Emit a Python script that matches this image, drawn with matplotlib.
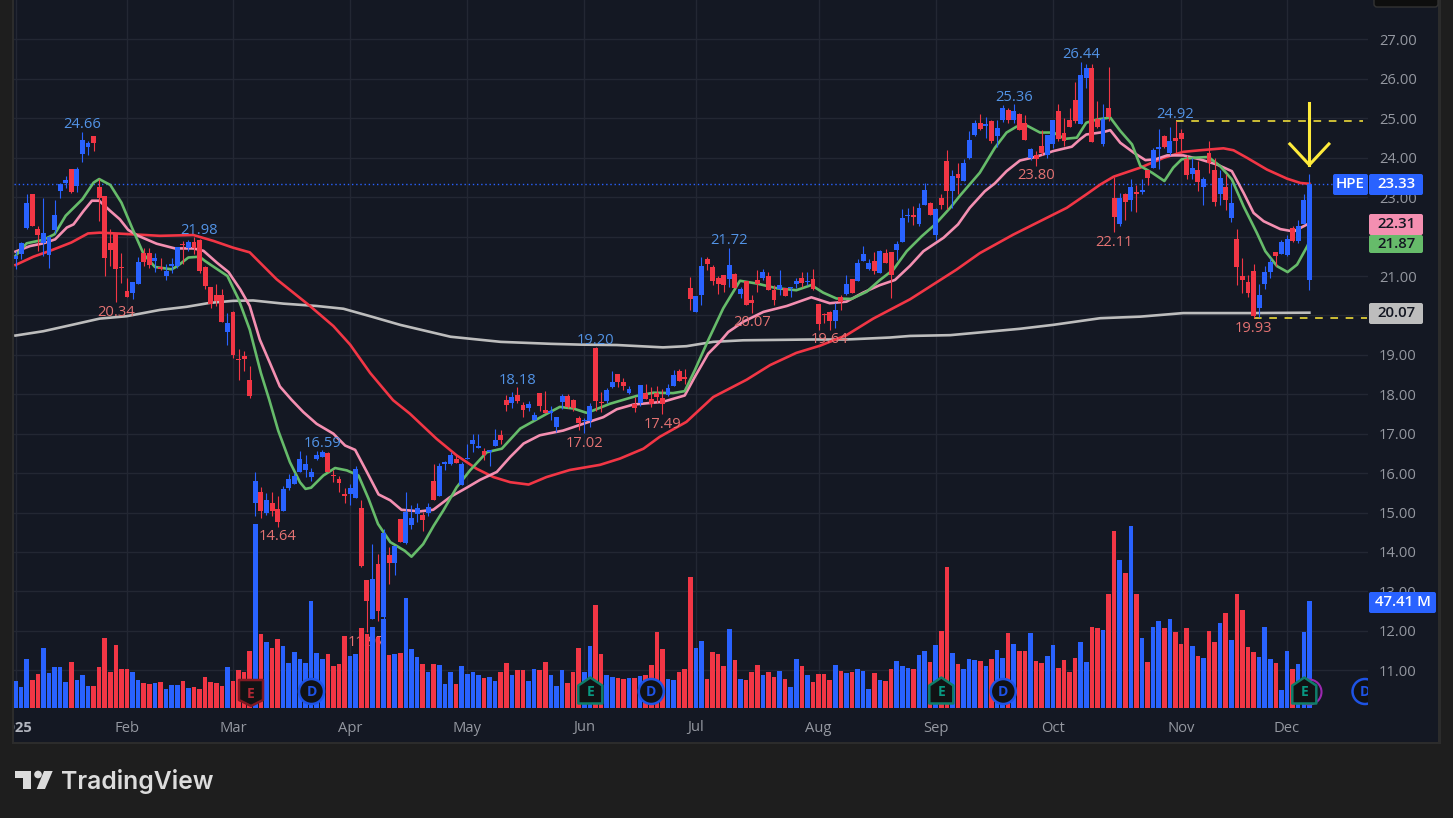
import numpy as np
import matplotlib
matplotlib.use("Agg")
import matplotlib.pyplot as plt
from matplotlib.patches import Rectangle, Circle, Polygon, FancyBboxPatch
from matplotlib.transforms import Affine2D

plt.rcParams['font.family'] = ['Open Sans', 'DejaVu Sans']

W, H = 1453, 818
BG = '#1e1e1e'
PANE = '#141823'
BLUE = '#2962ff'
RED = '#f23645'
GREEN_MA = '#66bb6a'
PINK_MA = '#f48fb1'
GREY_MA = '#bdbdbd'
TICK = '#9598a1'
GRID = '#232733'
YELLOW = '#ffeb3b'

# daily candles, HPE 2 Jan - 5 Dec 2025
opens = [21.42,21.55,22.21,23.08,22.20,21.83,21.53,22.16,23.16,23.35,
         23.71,23.28,24.10,24.28,24.55,23.27,23.04,21.85,22.07,21.22,
         20.63,20.56,20.81,21.58,21.58,21.37,21.24,21.00,21.25,21.25,
         21.82,21.70,21.86,21.91,21.22,20.73,20.51,20.51,19.59,20.08,
         18.89,18.97,18.35,15.24,15.51,15.00,15.25,15.09,15.03,15.62,
         15.73,16.04,16.07,15.90,16.36,16.42,16.50,15.94,15.84,15.48,
         15.46,15.36,15.12,13.29,12.30,13.70,12.34,13.93,13.71,14.84,
         14.22,14.69,14.97,14.95,15.00,15.79,15.41,16.24,16.24,16.35,
         15.69,16.36,16.75,16.65,16.57,16.54,16.69,16.96,17.86,17.79,
         17.98,17.73,17.65,17.35,18.04,17.60,17.53,17.17,17.81,17.96,
         17.86,17.39,17.31,17.31,19.17,17.79,17.83,18.19,18.52,18.31,
         18.03,17.75,17.77,18.03,17.87,18.04,17.90,17.97,18.21,18.58,
         18.42,20.69,20.09,20.53,21.43,21.24,20.94,21.03,20.92,21.04,
         20.54,20.87,20.39,20.90,20.96,21.00,20.65,20.66,20.69,20.69,
         20.80,20.94,20.85,20.92,20.29,20.03,20.08,19.85,20.46,20.54,
         20.92,20.88,21.39,21.19,21.37,21.08,21.58,21.61,21.66,21.86,
         22.52,22.54,22.31,22.81,22.85,22.03,22.97,23.91,23.15,23.59,
         23.41,24.00,24.58,24.87,24.81,24.92,24.55,24.97,25.22,24.95,
         25.12,24.89,24.00,24.08,24.31,24.08,24.36,25.18,24.62,24.97,
         25.47,24.86,26.02,26.27,24.99,24.36,25.25,22.98,22.33,23.07,
         22.94,23.14,23.12,23.69,23.75,24.23,24.56,24.13,24.49,24.64,
         23.97,23.58,23.70,23.25,24.13,23.70,23.07,23.26,22.47,21.95,
         21.01,20.84,21.14,20.19,20.81,21.09,21.61,21.56,21.54,22.22,
         21.88,22.31,20.89]
closes = [21.51,21.83,22.86,22.27,22.03,22.10,22.00,22.56,23.34,23.43,
          23.14,23.71,24.44,24.37,24.37,22.97,21.46,21.66,21.17,21.20,
          20.46,20.84,21.36,21.36,21.28,21.45,21.17,21.13,21.30,21.74,
          21.79,21.86,21.72,21.14,20.75,20.29,20.36,19.83,19.81,19.00,
          18.87,18.89,17.95,15.81,15.05,15.33,15.05,14.75,15.61,15.84,
          15.92,16.35,16.22,16.04,16.47,16.53,16.04,15.92,15.76,15.41,
          15.63,16.11,13.65,12.76,13.31,12.49,14.48,13.71,14.14,14.25,
          15.01,14.86,15.12,14.81,15.15,15.33,16.17,16.27,16.47,16.26,
          16.22,16.38,16.85,16.67,16.45,16.56,16.85,16.85,17.74,17.92,
          17.83,17.60,17.75,17.47,17.70,17.52,17.55,17.42,17.96,17.69,
          17.64,17.26,17.33,17.70,17.83,17.77,18.11,18.31,18.31,18.21,
          18.14,17.64,18.24,17.87,17.75,17.94,17.76,18.15,18.48,18.34,
          18.40,20.42,20.49,21.25,21.31,20.88,20.81,20.77,21.28,20.70,
          20.67,20.26,20.32,20.81,21.10,20.65,20.39,20.77,20.49,20.70,
          20.87,20.83,20.87,20.67,19.78,20.01,19.86,20.14,20.35,20.81,
          20.58,21.34,21.56,21.34,21.14,21.64,21.32,21.03,21.81,22.46,
          22.54,22.50,22.73,23.17,22.56,22.69,22.81,23.15,23.53,23.48,
          23.87,24.44,24.87,24.73,24.83,24.42,24.75,25.25,24.97,25.18,
          24.70,24.44,24.21,23.97,24.13,24.57,24.95,24.47,24.42,24.77,
          24.92,26.09,26.27,24.40,24.79,24.99,25.03,22.49,22.97,22.87,
          23.27,23.07,23.19,23.48,24.19,24.25,24.28,24.42,24.42,24.48,
          23.56,23.73,23.38,23.45,23.86,22.87,23.49,22.92,22.84,21.22,
          20.89,20.58,19.99,20.53,21.11,21.36,21.52,21.87,21.94,21.88,
          22.28,22.92,23.33]
highs = [21.64,21.86,23.08,23.08,22.27,22.99,22.02,22.92,23.35,23.53,
         23.71,23.76,24.66,24.43,24.55,23.47,23.04,22.20,22.07,21.58,
         20.94,20.86,21.47,21.72,21.72,21.58,21.45,21.30,21.45,21.74,
         21.88,21.92,21.98,21.93,21.25,20.73,20.81,20.68,20.05,20.11,
         19.14,19.11,18.71,16.04,15.66,15.50,15.51,15.43,15.68,15.97,
         16.00,16.56,16.47,16.13,16.55,16.59,16.53,16.07,15.92,15.62,
         15.73,16.19,15.31,13.29,14.19,13.95,14.58,14.12,14.14,14.84,
         15.53,15.18,15.25,15.01,15.24,16.24,16.25,16.32,16.53,16.49,
         16.28,16.75,16.98,17.00,16.64,16.59,17.13,17.10,17.98,18.05,
         18.18,17.81,17.83,17.55,18.04,18.08,17.70,17.42,18.00,18.00,
         17.87,17.45,17.39,17.79,19.20,18.07,18.15,18.59,18.52,18.42,
         18.21,17.94,18.24,18.26,18.19,18.21,18.14,18.25,18.61,18.63,
         18.65,20.98,20.49,21.47,21.47,21.28,21.00,21.03,21.72,21.07,
         20.73,20.87,20.52,21.15,21.17,21.11,20.77,21.15,20.69,20.71,
         20.94,21.11,21.09,21.19,20.29,20.05,20.12,20.31,20.52,21.03,
         20.92,21.43,21.76,21.42,21.62,21.66,21.68,21.61,21.90,22.70,
         22.73,22.77,22.86,23.36,22.88,22.73,23.07,24.19,23.69,23.86,
         23.98,24.68,24.97,25.10,25.04,24.97,24.96,25.33,25.27,25.36,
         25.14,25.08,24.25,24.17,24.70,24.59,24.97,25.36,25.00,25.27,
         25.93,26.44,26.37,26.37,25.44,25.36,26.31,23.52,23.11,23.11,
         23.45,23.32,23.47,23.69,24.25,24.72,24.59,24.79,24.92,24.72,
         24.08,24.00,23.92,23.52,24.42,24.00,23.70,23.60,23.36,22.19,
         21.46,21.03,21.31,20.80,21.26,21.46,21.61,21.91,22.05,22.26,
         22.43,23.09,23.58]
lows = [21.17,21.44,22.19,22.27,21.64,21.51,21.21,22.10,22.98,23.23,
        23.10,23.14,23.88,24.08,24.18,22.40,21.00,21.25,20.34,20.83,
        20.46,20.41,20.81,21.25,21.21,21.10,21.15,20.89,21.08,21.21,
        21.30,21.64,21.55,21.08,20.68,20.18,20.25,19.83,19.26,18.91,
        18.35,18.60,17.90,14.92,14.86,14.94,14.92,14.64,15.03,15.58,
        15.73,16.04,15.90,15.79,16.34,16.41,16.04,15.77,15.52,15.24,
        15.18,15.36,13.61,11.97,12.30,12.25,12.29,13.20,13.42,14.25,
        14.19,14.58,14.75,14.54,14.90,15.33,15.41,16.07,16.21,16.25,
        15.69,16.36,16.53,16.64,16.34,16.18,16.69,16.75,17.58,17.66,
        17.79,17.43,17.58,17.35,17.58,17.52,17.35,17.04,17.62,17.64,
        17.58,17.09,17.02,17.18,17.58,17.56,17.77,18.17,18.19,18.11,
        18.00,17.55,17.70,17.87,17.69,17.79,17.49,17.95,18.21,18.34,
        18.27,20.14,20.09,20.26,21.15,20.77,20.54,20.60,20.73,20.70,
        20.43,20.26,20.07,20.60,20.90,20.65,20.26,20.52,20.49,20.47,
        20.69,20.71,20.77,20.64,19.64,19.81,19.64,19.67,20.14,20.52,
        20.58,20.88,21.39,21.15,21.05,21.08,21.32,20.45,21.41,21.86,
        22.36,22.30,22.26,22.80,22.56,21.92,22.69,22.69,22.73,23.07,
        23.41,23.96,24.55,24.70,24.51,24.38,24.28,24.91,24.89,24.89,
        24.70,24.44,23.94,23.80,24.08,24.00,24.25,24.42,24.31,24.77,
        24.89,24.86,25.76,24.40,24.76,24.31,24.93,22.11,22.28,22.43,
        22.64,22.62,23.09,23.30,23.75,23.72,24.25,24.07,24.13,24.13,
        23.47,23.45,23.15,22.80,23.62,22.77,22.81,22.67,22.37,20.76,
        20.58,20.48,19.93,19.97,20.67,20.95,21.25,21.56,21.52,21.86,
        21.84,22.31,20.64]
# volume in millions
volumes = [11.9,9.2,21.6,12.3,15.0,26.5,15.4,18.0,18.0,11.4,
           20.3,12.3,14.5,9.6,9.6,18.0,31.0,15.9,27.9,17.2,
           17.2,15.9,12.3,11.0,10.5,11.0,11.4,8.3,10.0,10.0,
           11.9,8.7,9.2,8.3,13.6,11.4,11.0,9.6,18.0,11.9,
           16.7,15.9,25.2,81.6,33.0,29.5,26.8,30.8,27.7,19.9,
           24.7,21.6,19.9,47.4,24.3,21.6,23.9,18.5,19.4,31.9,
           23.0,23.9,35.4,32.7,35.9,31.4,39.4,23.4,23.9,24.3,
           48.7,26.1,22.5,19.4,15.9,19.4,19.0,10.5,15.9,10.5,
           18.5,15.0,15.9,14.5,13.2,13.6,11.9,15.9,19.9,14.5,
           16.7,16.7,11.9,17.2,16.7,20.3,14.5,9.6,16.7,11.0,
           15.9,26.5,15.9,27.4,45.6,23.9,14.5,13.6,13.2,12.7,
           13.2,13.2,14.1,14.5,19.0,33.6,26.1,12.7,12.3,15.9,
           17.2,58.1,26.5,29.6,12.7,24.7,24.1,18.8,35.3,21.5,
           13.0,12.6,16.1,19.3,14.8,16.1,13.9,16.6,13.0,9.5,
           21.9,18.8,14.8,11.7,15.3,15.3,12.6,19.3,16.6,15.7,
           16.1,17.5,16.6,8.6,15.7,12.6,12.1,17.5,21.0,18.8,
           17.9,17.5,23.7,25.5,20.6,28.1,34.4,62.8,24.6,19.7,
           17.5,21.9,21.5,21.0,18.8,21.9,25.9,22.4,33.5,28.6,
           25.5,25.5,33.5,21.0,20.1,23.3,28.1,17.9,21.5,16.1,
           22.4,29.5,20.6,36.1,35.7,34.8,50.8,78.8,65.9,60.1,
           81.0,50.8,31.3,20.6,36.1,38.5,35.4,39.4,33.6,28.3,
           35.4,27.4,23.0,22.1,34.1,29.2,37.6,42.1,30.1,50.5,
           43.4,27.0,24.7,22.5,35.9,21.6,19.9,7.9,25.2,17.2,
           19.4,33.6,47.41]

# moving averages as (bar, price)
green_ma = [(0,21.51),(2,21.83),(5,21.92),(7,22.06),(9,22.53),(12,22.95),(14,23.37),(15,23.46),(17,23.31),
            (19,22.86),(21,22.19),(23,21.55),(25,21.23),(28,21.17),(29,21.25),(31,21.47),(33,21.49),(34,21.38),
            (38,21.0),(40,20.41),(42,19.64),(44,18.54),(45.5,17.86),(47.1,17.08),(49.2,16.28),(51,15.77),(52,15.6),
            (53,15.63),(55.2,15.94),(57.3,16.13),(59.4,16.07),(61.5,15.94),(63.3,15.35),(65,14.71),(67.2,14.25),
            (69.8,14.03),(71,13.88),(73.1,14.2),(75,14.67),(76.7,15.05),(79.1,15.64),(81.5,16.07),(84.5,16.53),
            (87.2,16.62),(90.5,17.13),(95.2,17.5),(97.6,17.68),(100,17.64),(102.4,17.53),(103.6,17.59),(106.6,17.76),
            (111.4,17.96),(114.4,18.04),(117.9,18.03),(120,18.08),(121.8,18.61),(124.2,19.37),(126.9,20.18),
            (129.9,20.88),(132.9,20.81),(136.5,20.69),(140,20.64),(142.7,20.77),(144.8,20.58),(147.2,20.43),
            (149.9,20.42),(152.6,20.6),(155,20.9),(157.4,21.16),(159.8,21.63),(162.5,22.01),(164.9,22.31),
            (167.6,22.73),(169.3,23.03),(172.9,23.62),(175.6,24.25),(177.7,24.64),(179.5,24.79),(181.3,24.82),
            (183.7,24.64),(186.1,24.64),(188.2,24.48),(190.3,24.51),(192,24.89),(193.9,24.97),(196.3,25.02),
            (198.1,24.68),(200.2,24.34),(201.7,23.79),(203.8,23.62),(206,23.41),(207.6,23.75),(209.1,23.96),
            (211.2,24.0),(213.9,24.02),(216,23.79),(218.1,23.45),(220.2,22.77),(222.6,22.09),(224.1,21.63),
            (226.2,21.25),(228.1,21.1),(229.8,21.29),(231.6,21.75),(232,21.87)]
pink_ma = [(0,21.62),(2.6,21.76),(5,21.83),(7.1,21.93),(9.2,22.23),(10.4,22.31),(12.2,22.65),(13.7,22.91),(15,22.91),
           (17,22.65),(18.7,22.44),(20.2,22.17),(22,22.02),(25.3,21.82),(28.6,21.7),(31.9,21.7),(33.7,21.64),
           (36.1,21.34),(38.2,21.1),(40.3,20.66),(42,20.24),(43.8,19.39),(45.6,18.8),(47.4,18.2),(49.5,17.86),
           (51.6,17.55),(54,17.25),(57,17.0),(59.1,16.7),(60.9,16.59),(63,16.03),(65.1,15.46),(67.2,15.31),
           (69.2,15.07),(72.5,15.03),(74.9,15.07),(77.9,15.39),(80.9,15.63),(83.3,15.83),(86.3,16.03),(88.7,16.41),
           (91.1,16.75),(94,16.96),(98.2,17.08),(102.4,17.28),(105.4,17.42),(107.8,17.62),(110.8,17.74),
           (116.1,17.81),(120,17.97),(121.8,18.44),(124.2,19.03),(126.3,19.33),(127.8,19.58),(130.5,19.84),
           (134.1,20.09),(138.3,20.24),(142.7,20.46),(146,20.31),(149,20.35),(152,20.58),(155,20.77),(157.7,20.9),
           (160.4,21.26),(162.8,21.63),(166.4,21.97),(169,22.31),(171.1,22.73),(173.8,23.15),(175.6,23.35),
           (177.7,23.66),(180.1,23.93),(183.1,24.03),(186.1,24.17),(189.4,24.28),(190.9,24.47),(192,24.59),
           (195,24.65),(196.3,24.7),(198.1,24.38),(200.5,24.13),(202.6,23.94),(204.4,23.96),(206.5,24.06),
           (209.4,24.06),(212.4,23.96),(215.4,23.83),(218.1,23.66),(220.2,23.11),(222,22.6),(223.8,22.39),
           (226.8,22.19),(229.2,22.13),(231.6,22.31),(232,22.31)]
red_ma = [(0,21.28),(3.2,21.49),(6.2,21.64),(10,21.85),(13,22.08),(15.1,22.1),(18.1,22.08),(25.9,22.02),(31.9,22.04),
          (35.5,21.89),(39,21.72),(42,21.6),(46.8,20.92),(49.8,20.58),(52.8,20.24),(57,19.73),(60,19.26),(63.6,18.54),
          (67.7,17.85),(70.7,17.51),(75.5,16.87),(79.1,16.45),(82.7,16.11),(85.7,15.9),(88.7,15.77),(92,15.71),
          (95.2,15.9),(99.4,16.08),(104.8,16.21),(108.4,16.37),(112.6,16.62),(115.5,16.92),(120.3,17.3),(125.1,17.93),
          (131.1,18.37),(135.3,18.74),(140,19.05),(144.2,19.23),(149,19.5),(153.8,19.92),(160.4,20.41),(168.7,21.16),
          (172.9,21.58),(178.9,22.05),(183.7,22.39),(188.5,22.73),(192,23.07),(194.5,23.32),(196.9,23.52),(201.7,23.75),
          (205.9,24.0),(209.4,24.15),(212.4,24.19),(216.6,24.24),(218.4,24.19),(220.8,24.0),(224.4,23.7),(228,23.47),
          (230.4,23.36),(232,23.34)]
grey_ma = [(0,19.49),(5,19.6),(10.4,19.77),(15.1,19.92),(19.9,19.98),(25.9,20.14),(30.7,20.22),(34.9,20.32),(39,20.37),
           (42.6,20.38),(48,20.3),(54,20.24),(58.8,20.17),(63.6,19.98),(69,19.76),(78,19.46),(87,19.33),(96,19.28),
           (101.2,19.26),(107.8,19.25),(116.1,19.19),(120.3,19.22),(125.1,19.33),(130.5,19.37),(143,19.39),(149,19.39),
           (156.8,19.44),(160.4,19.48),(167.6,19.5),(180,19.66),(186,19.76),(194.5,19.93),(201.7,19.97),(209.4,20.06),
           (221.4,20.06),(232,20.07)]

# high / low labels: bar, price
high_idx = [12, 33, 55, 90, 104, 128, 179, 191, 208]
high_vals = [24.66, 21.98, 16.59, 18.18, 19.20, 21.72, 25.36, 26.44, 24.92]
low_idx = [18, 47, 63, 102, 116, 132, 146, 183, 197, 222]
low_vals = [20.34, 14.64, 11.97, 17.02, 17.49, 20.07, 19.64, 23.80, 22.11, 19.93]

month_idx = [0, 20, 39, 60, 81, 102, 122, 144, 165, 186, 209, 228]
month_names = ['2025', 'Feb', 'Mar', 'Apr', 'May', 'Jun', 'Jul', 'Aug', 'Sep', 'Oct', 'Nov', 'Dec']
price_ticks = list(range(11, 28))
# these two sit fully under the value boxes
hidden_ticks = (20, 22)

last_close = 23.33
pink_last, green_last, grey_last = 22.31, 21.87, 20.07
last_vol = '47.41 M'

fig = plt.figure(figsize=(W / 100, H / 100), dpi=100, facecolor=BG)
# pane behind everything, border around it
fig.add_artist(Rectangle((12 / W, 1 - 744 / H), 1429 / W, 744 / H, transform=fig.transFigure,
                         facecolor='#2c2c2c', edgecolor='none', zorder=-2))
fig.add_artist(Rectangle((14 / W, 1 - 742 / H), 1424 / W, 742 / H, transform=fig.transFigure,
                         facecolor=PANE, edgecolor='none', zorder=-1))

ax = fig.add_axes([14 / W, 1 - 708 / H, 1353.7 / W, 708 / H])
ax.patch.set_visible(False)
for s in ax.spines.values():
    s.set_visible(False)
ax.set_xlim(-0.27, 242.46)
ax.set_ylim(10.042, 28.002)

x = np.arange(len(closes))
o, c, h, l = map(np.array, (opens, closes, highs, lows))
up = c >= o
cols = np.where(up, BLUE, RED)

ax.set_axisbelow(True)
ax.grid(True, color=GRID, lw=1)
ax.set_xticks(month_idx, month_names)
ax.set_yticks(price_ticks, ['' if p in hidden_ticks else f'{p:.2f}' for p in price_ticks])
ax.yaxis.tick_right()
ax.tick_params(axis='x', length=0, pad=9, labelsize=10.6, labelcolor=TICK)
ax.tick_params(axis='y', length=0, pad=21.6, labelsize=10.6, labelcolor=TICK)
for t in ax.get_yticklabels():
    t.set_ha('center')
    t.set_fontweight('medium')
for t in ax.get_xticklabels():
    t.set_fontweight('medium')
first = ax.get_xticklabels()[0]
first.set_fontweight('bold')
first.set_color('#b2b5be')

# volume sits on the pane floor with its own scale (2.25 px per million)
vol_trans = Affine2D().scale(1, 0.05708).translate(0, 10.042) + ax.transData
ax.bar(x, volumes, width=0.82, color=cols, transform=vol_trans, zorder=2)

ax.axhline(last_close, color=BLUE, lw=1, ls=(0, (1, 2)), zorder=2.2)
ax.plot([208, 241.6], [24.92, 24.92], color=YELLOW, lw=1.1, ls=(0, (5, 5)), zorder=2.3)
ax.plot([222, 242.4], [19.93, 19.93], color=YELLOW, lw=1.1, ls=(0, (5, 5)), zorder=2.3)

for pts, col in [(grey_ma, GREY_MA), (red_ma, RED), (pink_ma, PINK_MA), (green_ma, GREEN_MA)]:
    xs, ys = np.array(pts).T
    ax.plot(xs, ys, color=col, lw=1.9, zorder=3, solid_joinstyle='round')

# candles on top of the averages
ax.vlines(x, l, h, color=cols, lw=0.8, zorder=4)
body = np.maximum(np.abs(c - o), 0.035)
ax.bar(x, body, bottom=np.minimum(o, c), width=0.88, color=cols, zorder=4.1)

for i, v in zip(high_idx, high_vals):
    ax.annotate(f'{v:.2f}', (i, v), xytext=(0, 6.8), textcoords='offset pixels', ha='center', va='center',
                color='#5293e6', fontsize=10.6, zorder=5)
for i, v in zip(low_idx, low_vals):
    # the April low label ends up behind the volume bars
    ax.annotate(f'{v:.2f}', (i, v), xytext=(0, -10.2), textcoords='offset pixels', ha='center', va='center',
                color='#e57373', fontsize=10.6, zorder=1.5 if i == 63 else 5)

# yellow arrow over the last bar
ax.plot([232, 232], [23.82, 25.39], color=YELLOW, lw=2.2, zorder=6)
ax.plot([228.5, 232, 235.5], [24.35, 23.82, 24.35], color=YELLOW, lw=2.2, zorder=6)

# overlay in pixel coordinates for axis boxes, badges and the logo
ov = fig.add_axes([0, 0, 1, 1], zorder=5)
ov.set_xlim(0, W)
ov.set_ylim(H, 0)
ov.axis('off')
clip = Rectangle((0, 0), 1367.7, H, transform=ov.transData)


def badge_e(cx, cy, pts, edge, letter_col):
    shape = np.array(pts) + [cx, cy]
    ov.add_patch(Polygon(shape, closed=True, facecolor='#111214', edgecolor=edge, lw=1.8, joinstyle='round'))
    ov.text(cx, cy + 0.5, 'E', color=letter_col, fontsize=10, fontweight='bold', ha='center', va='center')


def badge_d(cx, cy):
    p = Circle((cx, cy), 12.5, facecolor='#101216', edgecolor='#1e53e5', lw=1.8)
    ov.add_patch(p)
    p.set_clip_path(clip)
    t = ov.text(cx, cy, 'D', color='#1e53e5', fontsize=10, fontweight='bold', ha='center', va='center', clip_on=True)
    t.set_clip_path(clip)


shield = [(-12, -13), (12, -13), (12, 7), (0, 13), (-12, 7)]
house = [(0, -14), (12, -6), (12, 12), (-12, 12), (-12, -6)]
badge_e(251, 693, shield, '#801922', '#b22833')
for cx in (311.5, 651.3, 1003.3, 1365):
    badge_d(cx, 691.5)
ov.add_patch(Circle((1309, 692), 12.5, facecolor='none', edgecolor='#9c27b0', lw=1.5))
for cx in (590.3, 941.3, 1304.3):
    badge_e(cx, 691.5, house, '#0f7d69', '#089981')


def value_box(x0, y0, w, h, col, txt, txt_col):
    ov.add_patch(FancyBboxPatch((x0 + 1, y0 + 1), w - 2, h - 2, boxstyle='round,pad=1,rounding_size=2',
                                facecolor=col, edgecolor='none'))
    ov.text(x0 + w / 2, y0 + h / 2 - 0.5, txt, color=txt_col, fontsize=10.8, fontweight='semibold',
            ha='center', va='center')


value_box(1333, 174, 35, 21, BLUE, 'HPE', 'white')
value_box(1369, 174, 54, 21, BLUE, f'{last_close:.2f}', 'white')
value_box(1369, 214, 54, 21, PINK_MA, f'{pink_last:.2f}', '#131722')
value_box(1369, 235, 54, 18, GREEN_MA, f'{green_last:.2f}', '#131722')
value_box(1369, 303, 54, 21, GREY_MA, f'{grey_last:.2f}', '#131722')
value_box(1369, 592, 67, 21, BLUE, last_vol, 'white')

# left strip hides the clipped part of the first date
ov.add_patch(Rectangle((0, 0), 12, 744, facecolor=BG, edgecolor='none'))
ov.add_patch(Rectangle((12, 0), 2, 744, facecolor='#2c2c2c', edgecolor='none'))
# toolbar corner at the top right
ov.add_patch(FancyBboxPatch((1374, -6), 64, 13, boxstyle='round,pad=0,rounding_size=3',
                            facecolor='#0e0e0e', edgecolor='#333333', lw=1))

# TradingView logo
logo = '#dcdcdc'
ov.add_patch(Polygon([(15, 771), (31, 771), (31, 789), (23, 789), (23, 778), (15, 778)], facecolor=logo, edgecolor='none'))
ov.add_patch(Circle((38, 774.5), 3.8, facecolor=logo, edgecolor='none'))
ov.add_patch(Polygon([(44, 771), (52.7, 771), (45, 789), (36.7, 789)], facecolor=logo, edgecolor='none'))
ov.text(61, 781.5, 'TradingView', color=logo, fontsize=17.8, fontweight='semibold', family=['Inter', 'DejaVu Sans'],
        ha='left', va='center')

fig.savefig('out.png', dpi=100, facecolor=BG)
